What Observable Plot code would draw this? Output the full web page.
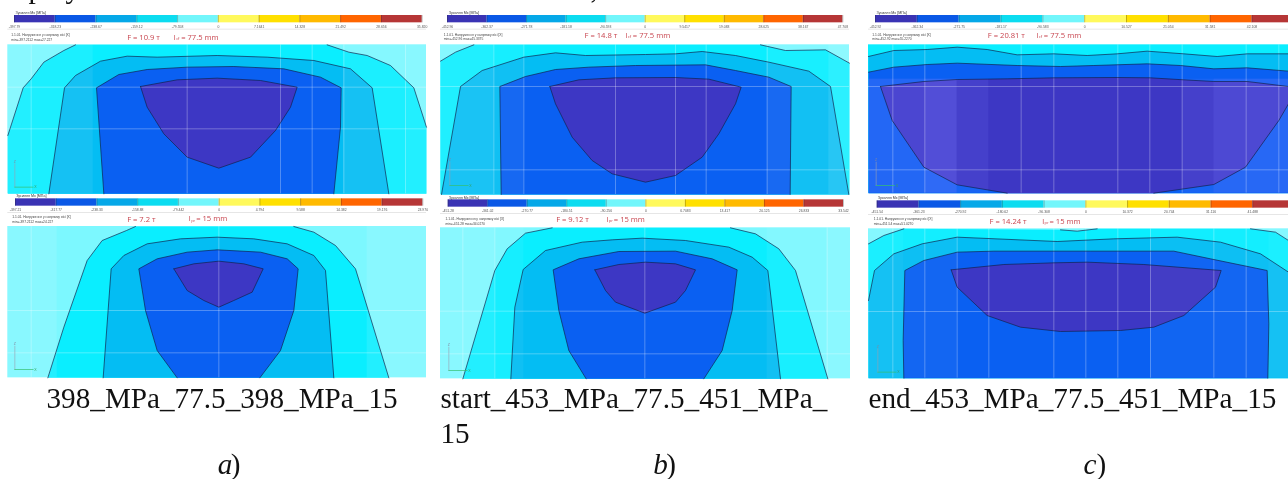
<!DOCTYPE html>
<html>
<head>
<meta charset="utf-8">
<script src="https://cdn.jsdelivr.net/npm/d3@7"></script>
<script src="https://cdn.jsdelivr.net/npm/@observablehq/plot@0.6"></script>
<style>
html,body{margin:0;padding:0;background:#fff;overflow:hidden}
svg{display:block;filter:blur(0.35px)}
</style>
</head>
<body>
<div id="chart"></div>
<script>
// Stress band colours (five compressive contour levels)
const levelColors = ["#7cf8ff","#0aeeff","#04bdf3","#0a60f2","#3d37c4"];
// Legend bar colours
const legendColors = ["#3a33b4","#0a58e6","#05a8e8","#0cdcf0","#72f6fb","#fff95c","#ffe000","#ffba00","#ff6500","#b63636"];

// Legend tick labels
const ticksA1 = ["-397.79","-318.23","-238.67","-159.12","-79.558","0","7.1641","14.328","21.492","28.656","35.820"];
const ticksA2 = ["-397.21","-317.77","-238.33","-158.88","-79.442","0","4.794","9.588","14.382","19.176","23.970"];
const ticksB1 = ["-452.96","-362.37","-271.78","-181.18","-90.593","0","9.5417","19.083","28.625","38.167","47.708"];
const ticksB2 = ["-451.28","-361.02","-270.77","-180.51","-90.256","0","6.7083","13.417","20.125","26.833","33.542"];
const ticksC1 = ["-452.92","-362.34","-271.75","-181.17","-90.583","0","10.527","21.054","31.581","42.108"];
const ticksC2 = ["-451.54","-361.23","-270.92","-180.62","-90.308","0","10.372","20.744","31.116","41.488"];

// Contours, in crop units
const a1Contours = [
  {level:1, paths:[[[22,405],[68,262],[92,235],[130,185],[190,150],[225,133]],[[980,133],[1045,155],[1100,165],[1170,195],[1240,262],[1278,380]]]},
  {level:2, paths:[[[145,580],[192,262],[225,225],[300,182],[380,167],[470,170],[650,165],[800,170],[940,180],[1050,205],[1115,262],[1165,580]]]},
  {level:3, paths:[[[310,580],[288,262],[355,222],[440,207],[560,200],[700,198],[850,205],[960,230],[1022,262],[1020,380],[1000,580]]]},
  {level:4, paths:[[[420,258],[530,238],[650,233],[780,240],[890,260],[870,320],[825,390],[750,470],[655,503],[560,470],[490,400],[440,320],[420,258]]]}
];
const a2Contours = [
  {level:1, paths:[[[142,562],[190,410],[260,210],[305,150],[378,120],[405,108]],[[880,108],[940,125],[1005,165],[1065,235],[1085,300],[1165,562]]]},
  {level:2, paths:[[[308,562],[332,235],[370,195],[440,160],[540,145],[650,140],[760,145],[860,160],[940,195],[975,240],[1000,562]]]},
  {level:3, paths:[[[530,562],[470,480],[435,360],[415,235],[470,205],[560,185],[650,178],[780,185],[860,205],[893,235],[880,360],[840,480],[778,562]]]},
  {level:4, paths:[[[520,235],[580,220],[655,212],[730,220],[788,235],[755,305],[700,330],[655,350],[610,330],[560,300],[520,235]]]}
];
const b1Contours = [
  {level:1, paths:[[[15,182],[60,155],[115,133]],[[975,133],[1050,150],[1170,148],[1242,188]]]},
  {level:2, paths:[[[18,582],[75,258],[140,210],[265,170],[360,157],[450,165],[630,162],[720,160],[800,153],[900,165],[1000,185],[1120,212],[1185,258],[1240,582]]]},
  {level:3, paths:[[[197,582],[193,258],[270,228],[360,207],[460,200],[600,195],[810,193],[900,210],[1000,230],[1067,258],[1064,582]]]},
  {level:4, paths:[[[343,258],[430,238],[540,232],[720,231],[820,236],[917,260],[900,310],[850,400],[800,470],[720,525],[630,545],[530,520],[470,480],[410,410],[360,310],[343,258]]]}
];
const b2Contours = [
  {level:1, paths:[[[82,565],[178,240],[215,175],[270,128],[350,112]],[[885,112],[960,130],[1030,175],[1080,240],[1177,565]]]},
  {level:2, paths:[[[226,565],[238,350],[263,237],[330,180],[440,155],[530,148],[620,143],[750,150],[880,170],[950,200],[997,240],[1035,565]]]},
  {level:3, paths:[[[452,565],[400,480],[370,360],[353,238],[430,205],[550,183],[720,182],[830,205],[905,238],[890,360],[860,480],[805,565]]]},
  {level:4, paths:[[[478,238],[550,222],[630,215],[720,220],[780,238],[750,300],[720,335],[628,368],[540,335],[510,300],[478,238]]]}
];
const c1Contours = [
  {level:2, paths:[[[24,168],[100,150],[200,147],[290,140],[380,147],[470,163],[580,160],[680,165],[770,160],[860,152],[970,160],[1070,168],[1160,160],[1284,160]]]},
  {level:3, paths:[[[24,215],[100,200],[200,192],[290,188],[470,195],[600,198],[700,195],[860,190],[960,195],[1060,205],[1160,202],[1284,212]]]},
  {level:4, paths:[[[60,258],[190,243],[290,237],[440,235],[580,232],[770,231],[870,232],[970,238],[1060,243],[1160,243],[1284,258],[1284,310],[1255,360],[1155,500],[1060,552],[880,578]],[[440,578],[290,553],[190,500],[95,360],[60,258]]]}
];
const c2Contours = [
  {level:1, paths:[[[24,160],[70,135],[130,115]],[[600,118],[650,122],[710,115]],[[1170,115],[1245,125],[1284,150]]]},
  {level:2, paths:[[[24,330],[42,240],[100,190],[185,160],[290,140],[590,153],[760,145],[950,140],[1080,155],[1200,190],[1284,245]]]},
  {level:3, paths:[[[130,563],[128,450],[133,240],[190,210],[290,185],[400,182],[690,182],[940,182],[1050,205],[1220,240],[1225,400],[1222,563]]]},
  {level:4, paths:[[[272,238],[430,222],[580,217],[680,215],[850,222],[1082,240],[1065,290],[970,375],[880,410],[780,420],[600,423],[480,410],[380,375],[290,290],[272,238]]]}
];

// Annotations
const forces = ["F = 10.9 т","F = 7.2 т","F = 14.8 т","F = 9.12 т","F = 20.81 т","F = 14.24 т"];
const lengths = ["77.5 mm","15 mm","77.5 mm","15 mm","77.5 mm","15 mm"];
const notes = [
  ["1.1.01. Напруження у напрямку вісі [X]","min=-397.2112 max=27.227"],
  ["1.1.01. Напруження у напрямку вісі [X]","min=-397.2112 max=24.227"],
  ["1.1.01. Напруження у напрямку вісі [X]","min=-452.96 max=45.3375"],
  ["1.1.01. Напруження у напрямку вісі [X]","min=-451.28 max=34.0270"],
  ["1.1.01. Напруження у напрямку вісі [X]","min=-452.92 max=55.2270"],
  ["1.1.01. Напруження у напрямку вісі [X]","min=-451.54 max=51.0270"]
];
const headerLabel = "Зусилля Мх [МПа]";
const captions = ["398_MPa_77.5_398_MPa_15","start_453_MPa_77.5_451_MPa_","15","end_453_MPa_77.5_451_MPa_15"];
const subLetters = ["a","b","c"];

// Layout of the six panels, in crop units (three to a page pixel); ox, oy in page pixels
const layout = [
  {ox:0,   oy:0,   rect:[22,133,1278,580], bar:[42,1265,45,67], tickY:78, head:[45,37], note:[32,103,117], f:[380,110], l:[520,110], sub:"cf", ticks:ticksA1, contours:a1Contours, bg:0,
   vgrid:[92,560,840,935,1030,1215], hgrid:[260,385], bands:[[22,92,.1],[92,278,.07],[1030,1215,.07],[1215,1278,.1]], triad:[43,560]},
  {ox:0,   oy:190, rect:[22,108,1278,562], bar:[45,1267,25,47], tickY:57, head:[47,16], note:[35,80,95], f:[380,87], l:[565,85], sub:"pr", ticks:ticksA2, contours:a2Contours, bg:0,
   vgrid:[92,655], hgrid:[360,487], bands:[[22,170,.1],[1100,1278,.1]], triad:[43,537]},
  {ox:435, oy:0,   rect:[15,133,1242,582], bar:[36,1222,45,67], tickY:78, head:[40,37], note:[25,102,116], f:[447,106], l:[570,104], sub:"cf", ticks:ticksB1, contours:b1Contours, bg:0,
   vgrid:[175,265,540,720,812,995], hgrid:[258,508], bands:[[15,175,.09],[175,265,.05],[995,1180,.06],[1180,1242,.14]], triad:[43,555]},
  {ox:435, oy:190, rect:[15,112,1245,565], bar:[38,1224,28,50], tickY:61, head:[40,22], note:[30,86,100], f:[362,88], l:[513,87], sub:"pr", ticks:ticksB2, contours:b2Contours, bg:0,
   vgrid:[82,178,628,1175], hgrid:[362,490], bands:[[15,178,.1],[178,265,.05],[995,1175,.06],[1175,1245,.12]], triad:[40,540]},
  {ox:860, oy:0,   rect:[24,133,1284,578], bar:[45,1300,45,67], tickY:78, head:[48,38], note:[35,102,116], f:[382,106], l:[528,105], sub:"cf", ticks:ticksC1, contours:c1Contours, bg:1,
   vgrid:[97,193,482,580,772,868,965,1157,1255], hgrid:[258,508], bands:[[24,193,.22],[193,290,.32],[290,385,.12],[965,1060,.12],[1060,1284,.25]], bandFill:"#8080ff", bandTop:236, triad:[47,555]},
  {ox:860, oy:190, rect:[24,115,1284,563], bar:[50,1302,31,53], tickY:63, head:[52,22], note:[40,86,100], f:[387,93], l:[545,93], sub:"pr", ticks:ticksC2, contours:c2Contours, bg:0,
   vgrid:[97,193,290,385,580,676,772,870,1060,1157], hgrid:[363], bands:[[24,130,.07],[130,290,.04],[870,1060,.03],[1060,1225,.04],[1225,1284,.07]], triad:[52,545]}
];

function panelMarks(p, i) {
  const [x0,y0,x1,y1] = p.rect;
  const shift = {dx:p.ox, dy:p.oy};
  const marks = [];
  // contour field background
  marks.push(Plot.rect([p.rect], {x1:d=>d[0], y1:d=>d[1], x2:d=>d[2], y2:d=>d[3], fill:levelColors[p.bg], ...shift}));
  // filled contour levels
  for (const c of p.contours) {
    const pts = c.paths.flat();
    const first = pts[0], last = pts[pts.length-1];
    const closing = [];
    if (last[1] < y1 - 1 && !(first[0]===last[0] && first[1]===last[1])) closing.push([x1,y1],[x0,y1]);
    marks.push(Plot.line(pts.concat(closing), {x:d=>d[0], y:d=>d[1], curve:"linear-closed", fill:levelColors[c.level], stroke:"none", ...shift}));
  }
  // lighter vertical banding of the field
  marks.push(Plot.rect(p.bands, {x1:d=>d[0], x2:d=>d[1], y1:p.bandTop ?? y0, y2:y1, fill:p.bandFill ?? "#fff", fillOpacity:d=>d[2], ...shift}));
  // grid
  marks.push(Plot.ruleX(p.vgrid, {x:d=>d, y1:y0, y2:y1, stroke:"#fff", strokeOpacity:.36, strokeWidth:.8, ...shift}));
  marks.push(Plot.ruleY(p.hgrid, {y:d=>d, x1:x0, x2:x1, stroke:"#fff", strokeOpacity:.36, strokeWidth:.8, ...shift}));
  // contour outlines
  for (const c of p.contours) for (const path of c.paths) {
    marks.push(Plot.line(path, {x:d=>d[0], y:d=>d[1], stroke:"#10204a", strokeWidth:.75, strokeOpacity:.9, ...shift}));
  }
  // axis triad
  const [tx,ty] = p.triad;
  marks.push(Plot.line([[tx,ty-70],[tx,ty]], {x:d=>d[0], y:d=>d[1], stroke:"#9aa0b0", strokeWidth:.6, ...shift}));
  marks.push(Plot.line([[tx,ty],[tx+55,ty]], {x:d=>d[0], y:d=>d[1], stroke:"#35c070", strokeWidth:.7, ...shift}));
  marks.push(Plot.text(["X"], {x:tx+62, y:ty, text:d=>d, fontSize:3.5, fill:"#35a060", fontFamily:"Liberation Sans", ...shift}));
  marks.push(Plot.text(["Z"], {x:tx, y:ty-76, text:d=>d, fontSize:3.5, fill:"#8088a0", fontFamily:"Liberation Sans", ...shift}));
  // legend bar
  const [bx0,bx1,by0,by1] = p.bar;
  const bw = (bx1-bx0)/10;
  marks.push(Plot.rect(legendColors, {x1:(d,j)=>bx0+j*bw, x2:(d,j)=>bx0+(j+1)*bw, y1:by0, y2:by1, fill:d=>d, ...shift}));
  marks.push(Plot.ruleX(d3.range(11), {x:j=>bx0+j*bw, y1:by0, y2:by1, stroke:"#222", strokeOpacity:.55, strokeWidth:.5, ...shift}));
  marks.push(Plot.ruleY([by1+19], {x1:x0, x2:x1, y:d=>d, stroke:"#ccc", strokeWidth:.5, ...shift}));
  marks.push(Plot.text(p.ticks, {x:(d,j)=>bx0+j*bw, y:p.tickY, text:d=>d, fontSize:3.4, fill:"#555", fontFamily:"Liberation Sans", ...shift}));
  // headers and notes
  marks.push(Plot.text([headerLabel], {x:p.head[0], y:p.head[1], text:d=>d, fontSize:3.6, fill:"#333", textAnchor:"start", fontFamily:"Liberation Sans", ...shift}));
  marks.push(Plot.text(notes[i], {x:p.note[0], y:(d,j)=>p.note[j+1], text:d=>d, fontSize:3.3, fill:"#444", textAnchor:"start", fontFamily:"Liberation Sans", ...shift}));
  // red annotations
  const red = "#c8454f";
  marks.push(Plot.text([forces[i]], {x:p.f[0], y:p.f[1], text:d=>d, fontSize:7.6, fill:red, textAnchor:"start", fontFamily:"Open Sans", ...shift}));
  marks.push(Plot.text(["l"], {x:p.l[0], y:p.l[1], text:d=>d, fontSize:7.6, fill:red, textAnchor:"start", fontFamily:"Open Sans", ...shift}));
  marks.push(Plot.text([p.sub], {x:p.l[0]+7, y:p.l[1]+5, text:d=>d, fontSize:4, fill:red, textAnchor:"start", fontFamily:"Open Sans", ...shift}));
  marks.push(Plot.text(["= "+lengths[i]], {x:p.l[0]+22, y:p.l[1], text:d=>d, fontSize:7.6, fill:red, textAnchor:"start", fontFamily:"Open Sans", ...shift}));
  return marks;
}

const serif = {fontFamily:"Liberation Serif", fontSize:29.2, fill:"#111", textAnchor:"start", lineAnchor:"bottom"};
const captionX = [138, 1320, 1320, 2604];
const captionY = [1221, 1221, 1326, 1221];
const letterX = [652, 1958, 3249];
const cutOffFragments = [["p",84],["y",195],[",",1770]];

const plot = Plot.plot({
  width:1288, height:479,
  margin:0,
  style:{background:"#fff"},
  x:{domain:[0,3864], range:[0,1288], axis:null},
  y:{domain:[0,1437], range:[0,479], axis:null},
  marks:[
    ...layout.flatMap(panelMarks),
    Plot.text(captions, {...serif, x:(d,i)=>captionX[i], y:(d,i)=>captionY[i], text:d=>d}),
    Plot.text(subLetters, {...serif, x:(d,i)=>letterX[i], y:1420, text:d=>d, fontStyle:"italic"}),
    Plot.text(subLetters.map(()=>")"), {...serif, x:(d,i)=>letterX[i]+39, y:1420, text:d=>d}),
    Plot.text(cutOffFragments, {...serif, x:d=>d[1], y:-9, text:d=>d[0]})
  ]
});
document.getElementById("chart").append(plot);
</script>
</body>
</html>
